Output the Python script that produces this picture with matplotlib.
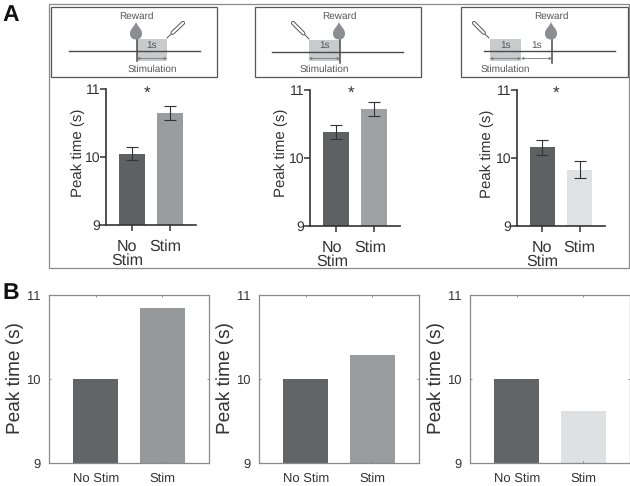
import matplotlib
matplotlib.use("Agg")
import matplotlib.pyplot as plt
from matplotlib.patches import Rectangle, PathPatch
from matplotlib.path import Path
from matplotlib.transforms import ScaledTranslation

plt.rcParams['font.family'] = ['Liberation Sans', 'DejaVu Sans']
plt.rcParams['text.hinting'] = 'none'
plt.rcParams['text.hinting_factor'] = 1

W, H = 630, 486
DARK = '#5f6062'
MID_A = '#a0a1a4'
MID_A1 = '#9b9c9f'
LIGHT = '#e0e1e3'
TXT = '#333333'

a_labels = ['No\nStim', 'Stim']
a_values = [[10.05, 10.65], [10.38, 10.72], [10.16, 9.83]]
a_errors = [[0.09, 0.10], [0.10, 0.10], [0.11, 0.12]]
a_colors = [[DARK, MID_A1], [DARK, MID_A], [DARK, LIGHT]]
a_boxes = [(106, 89, 196, 225), (310, 90, 400, 226), (517, 90, 605, 226)]
a_star_x = [147, 351, 556]
a_label_shift = [-5, -4, 0]
a_ylabel_xy = [(78, 153), (281, 153), (487, 154)]

b_labels = ['No Stim', 'Stim']
b_values = [[10.0, 10.84], [10.0, 10.28], [10.0, 9.62]]
b_colors = [['#636466', '#97989a'], ['#636466', '#9a9b9e'], ['#636466', '#dfe0e2']]
b_boxes = [(49, 295, 209, 463), (259, 295, 419, 463), (470, 295, 630, 463)]
b_ylabel_xy = [(15, 378), (225, 378), (436, 378)]

ticks = [9, 10, 11]

fig = plt.figure(figsize=(W / 100, H / 100), dpi=100)


def mk_axes(box):
    l, t, r, b = box
    return fig.add_axes([l / W, 1 - b / H, (r - l) / W, (b - t) / H])


def place_ylabel(ax, box, xy):
    l, t, r, b = box
    ax.yaxis.set_label_coords((xy[0] - l) / (r - l), (b - xy[1]) / (b - t))


ov = fig.add_axes([0, 0, 1, 1], zorder=0)
ov.set_xlim(0, W)
ov.set_ylim(H, 0)
ov.axis('off')

# panel letters and outer frame
ov.text(2, 15, 'A', fontsize=16.5, fontweight='bold', color='#111111', va='center')
ov.text(2, 293, 'B', fontsize=16.5, fontweight='bold', color='#111111', va='center')
ov.add_patch(Rectangle((48.5, 4.5), 580, 263.5, fc='none', ec='#8a8a8a', lw=0.9))


def drop(x, y):
    verts = [(x, y - 9), (x + 1, y - 4), (x + 6, y - 2), (x + 6, y + 3), (x + 6, y + 8),
             (x + 2.5, y + 9), (x, y + 9), (x - 2.5, y + 9), (x - 6, y + 8), (x - 6, y + 3),
             (x - 6, y - 2), (x - 1, y - 4), (x, y - 9)]
    codes = [Path.MOVETO] + [Path.CURVE4] * 12
    ov.add_patch(PathPatch(Path(verts, codes), fc='#8c8d90', ec='none', zorder=4))


def pipette(x0, y0, x1, y1):
    fx = x0 + (x1 - x0) * 0.35
    fy = y0 + (y1 - y0) * 0.35
    ov.plot([x0, fx], [y0, fy], color='#555555', lw=0.7, zorder=4)
    ov.plot([fx, x1], [fy, y1], color='#555555', lw=3.0, solid_capstyle='round', zorder=4)
    ov.plot([fx, x1], [fy, y1], color='white', lw=1.6, solid_capstyle='round', zorder=5)


def arrow(x0, x1, y):
    ov.annotate('', xy=(x1, y), xytext=(x0, y),
                arrowprops=dict(arrowstyle='<|-|>', color='#777777', lw=0.6, mutation_scale=3.5,
                                shrinkA=0, shrinkB=0), zorder=4)


def schematic(box, line, rect, vline, reward, pip, spans, stim_x):
    ov.add_patch(Rectangle((box[0], box[1]), box[2] - box[0], box[3] - box[1], fc='white', ec='#555555', lw=0.9))
    ov.add_patch(Rectangle((rect[0], rect[1]), rect[2] - rect[0], rect[3] - rect[1], fc='#c9cacc', ec='none', zorder=2))
    ov.plot(line[:2], [line[2], line[2]], color='#4a4a4a', lw=1.0, zorder=3)
    ov.plot([vline[0], vline[0]], vline[1:], color='#4a4a4a', lw=1.1, zorder=3)
    for x0, x1 in spans:
        arrow(x0, x1, 58.5)
        ov.text((x0 + x1) / 2, 45.5, '1s', fontsize=7.5, color='#555555', ha='center', va='center', zorder=4)
    ov.text(reward, 16, 'Reward', fontsize=7.5, color='#555555', ha='center', va='center')
    drop(reward, 30.5)
    pipette(*pip)
    ov.text(stim_x, 69, 'Stimulation', fontsize=7.5, color='#555555', ha='center', va='center')


schematic((51, 7, 217, 77), (69, 200, 51), (137, 39, 167, 61), (137, 39, 61), 136,
          (167, 38, 183, 23), [(137, 167)], 152)
schematic((255, 7, 421, 77), (272, 403, 52), (309, 40, 340, 61), (340, 39, 63), 339,
          (309, 39, 293, 23), [(309, 340)], 324)
schematic((461, 7, 628, 77), (484, 615, 51), (490, 39, 521, 61), (552, 39, 63), 551,
          (489, 38, 474, 23), [(490, 521), (521, 552)], 505)

# panel A charts
for box, vals, errs, cols, sx, shift, yl in zip(a_boxes, a_values, a_errors, a_colors, a_star_x,
                                                 a_label_shift, a_ylabel_xy):
    ax = mk_axes(box)
    ax.patch.set_alpha(0)
    ax.bar([1, 2], vals, width=0.68, color=cols, yerr=errs, ecolor='#333333',
           error_kw=dict(elinewidth=0.8, capsize=4.5, capthick=0.8))
    ax.set_xlim(0.32, 2.68)
    ax.set_ylim(9, 11)
    ax.set_yticks(ticks)
    ax.set_xticks([1, 2])
    ax.set_xticklabels(a_labels, va='top', linespacing=0.95)
    ax.tick_params(axis='both', labelcolor=TXT, color='#333333', width=1.1, length=4.3)
    ax.tick_params(axis='y', pad=0, labelsize=10.3)
    ax.tick_params(axis='x', pad=6, labelsize=11.5)
    off = ScaledTranslation(shift / 100, 0, fig.dpi_scale_trans)
    for lab in ax.get_xticklabels():
        lab.set_transform(lab.get_transform() + off)
    for s in ('top', 'right'):
        ax.spines[s].set_visible(False)
    for s in ('left', 'bottom'):
        ax.spines[s].set_linewidth(1.2)
        ax.spines[s].set_color('#333333')
    ax.set_ylabel('Peak time (s)', fontsize=11, color=TXT, va='center')
    place_ylabel(ax, box, yl)
    ov.text(sx, 93, '*', fontsize=12, color=TXT, ha='center', va='center')

# panel B charts
for box, vals, cols, yl in zip(b_boxes, b_values, b_colors, b_ylabel_xy):
    ax = mk_axes(box)
    ax.bar([1, 2], vals, width=0.68, color=cols)
    ax.set_xlim(0.3, 2.7)
    ax.set_ylim(9, 11)
    ax.set_yticks(ticks)
    ax.set_xticks([1, 2])
    ax.set_xticklabels(b_labels)
    ax.tick_params(axis='both', labelsize=9.5, labelcolor=TXT, color='#777777', width=0.6, length=1.5,
                   direction='in', top=True, right=True)
    ax.tick_params(axis='x', pad=7)
    ax.tick_params(axis='y', pad=6)
    for s in ax.spines.values():
        s.set_linewidth(0.9)
        s.set_color('#8a8a8a')
    ax.set_ylabel('Peak time (s)', fontsize=14, color=TXT, va='center')
    place_ylabel(ax, box, yl)

fig.savefig('out.png', dpi=100)
